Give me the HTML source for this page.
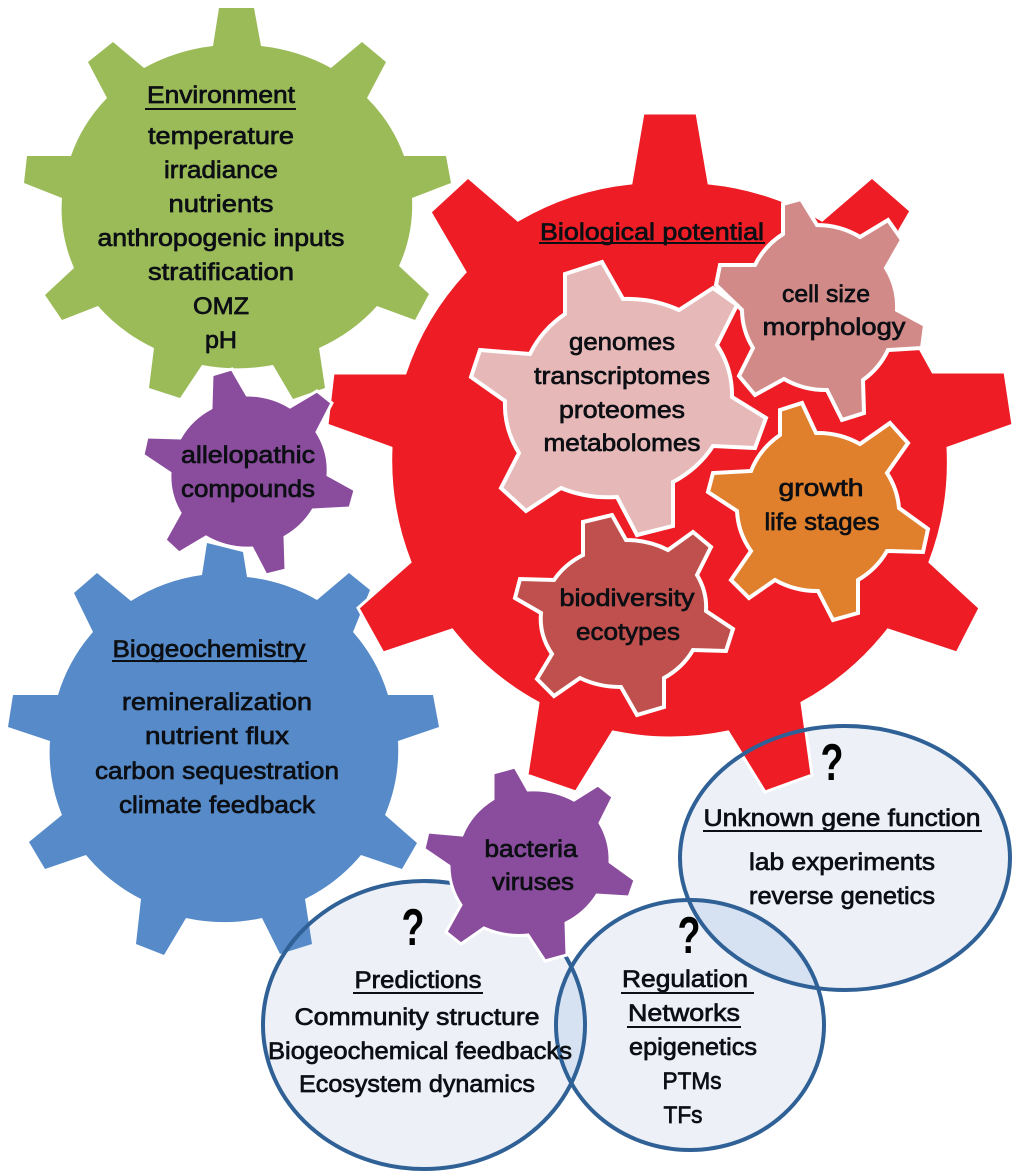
<!DOCTYPE html>
<html><head><meta charset="utf-8"><style>
html,body{margin:0;padding:0;background:#fff;width:1024px;height:1176px;overflow:hidden}
svg{display:block}
text{font-family:"Liberation Sans",sans-serif;font-size:24px;fill:#0c0f14;stroke:#0c0f14;stroke-width:.7px;text-anchor:middle;font-weight:normal}
.q{font-size:52px;font-weight:bold;stroke:none;fill:#000}
.u{stroke:#0c0f14;stroke-width:2}
</style></head><body>
<svg width="1024" height="1176" viewBox="0 0 1024 1176" xmlns="http://www.w3.org/2000/svg">
<defs>
<clipPath id="c1"><ellipse cx="690" cy="1025" rx="134" ry="125"/></clipPath>
</defs>
<rect width="1024" height="1176" fill="#fff"/>
<!-- circle fills -->
<ellipse cx="424" cy="1025" rx="161" ry="144" fill="#edf1f7"/>
<ellipse cx="690" cy="1025" rx="134" ry="125" fill="#edf1f7"/>
<ellipse cx="845" cy="858" rx="165" ry="132" fill="#edf1f7"/>
<ellipse cx="424" cy="1025" rx="161" ry="144" fill="#d6e2f2" clip-path="url(#c1)"/>
<ellipse cx="845" cy="858" rx="165" ry="132" fill="#d6e2f2" clip-path="url(#c1)"/>
<!-- green -->
<path fill="#9bbb59" d="M219,8 L254,8 L261,46 A176 160 0 0 1 331,68 L362,42 L386,62 L367,98 A176 160 0 0 1 404,156 L446,156 L451,183 L412,198 A176 160 0 0 1 399,266 L429,294 L415,320 L377,306 A176 160 0 0 1 319,348 L325,388 L293,399 L273,365 A176 160 0 0 1 202,365 L180,398 L149,388 L154,348 A176 160 0 0 1 98,306 L62,320 L45,295 L74,268 A176 160 0 0 1 62,198 L24,183 L27,156 L71,156 A176 160 0 0 1 107,98 L88,62 L113,42 L144,68 A176 160 0 0 1 213,46 Z"/>
<!-- blue -->
<path fill="#568ac8" d="M207,543 L243,552 L247,577 A174 170 0 0 1 317,600 L349,573 L370,590 L353,632 A174 170 0 0 1 388,695 L433,695 L439,727 L398,741 A174 170 0 0 1 385,815 L417,843 L402,869 L361,855 A174 170 0 0 1 305,899 L312,944 L280,954 L262,918 A174 170 0 0 1 186,918 L164,955 L136,944 L141,899 A174 170 0 0 1 86,855 L45,869 L29,842 L62,815 A174 170 0 0 1 50,741 L8,727 L13,695 L58,695 A174 170 0 0 1 93,632 L74,593 L97,573 L131,601 A174 170 0 0 1 202,575 Z"/>
<!-- red -->
<path fill="#ee1c25" stroke="#fff" stroke-width="3" d="M643,113 L697,113 L709,183 A279 279 0 0 1 822,220 L872,177 L911,211 L900,230 L885,280 L903,320 L922,352 L933,372 L1005,372 L1013,425 L948,448 A279 279 0 0 1 930,562 L980,608 L957,653 L888,630 A279 279 0 0 1 802,703 L812,775 L765,792 L728,732 A279 279 0 0 1 613,732 L576,792 L527,775 L538,703 A279 279 0 0 1 452,630 L383,653 L358,608 L410,562 A279 279 0 0 1 391,448 L327,425 L333,373 L405,373 A279 279 0 0 1 465,272 L430,212 L468,177 L518,220 A279 279 0 0 1 631,183 Z"/>
<!-- circle strokes -->
<g fill="none" stroke="#2f6096" stroke-width="4">
<ellipse cx="424" cy="1025" rx="161" ry="144"/>
<ellipse cx="690" cy="1025" rx="134" ry="125"/>
<ellipse cx="845" cy="858" rx="165" ry="132"/>
</g>
<!-- inner gears -->
<g stroke="#fff" stroke-width="4" stroke-linejoin="miter">
<path fill="#d28a88" d="M783,204 L801,199 L817,225 A80 76 0 0 1 860,237 L888,220 L902,240 L886,268 A80 76 0 0 1 897,310 L925,325 L922,348 L888,350 A80 76 0 0 1 863,380 L864,413 L842,420 L827,390 A80 76 0 0 1 784,379 L755,395 L739,376 L753,348 A80 76 0 0 1 742,310 L716,285 L720,265 L755,265 A80 76 0 0 1 783,234 Z"/>
<path fill="#e6b8b7" d="M565,274 L602,262 L623,299 A113 100 0 0 1 679,310 L713,288 L737,305 L717,345 A113 100 0 0 1 732,397 L766,418 L755,448 L713,446 A113 100 0 0 1 673,482 L673,526 L637,535 L617,497 A113 100 0 0 1 561,488 L526,511 L501,488 L519,453 A113 100 0 0 1 505,401 L471,377 L480,350 L530,354 A113 100 0 0 1 565,314 Z"/>
<path fill="#e07f2c" d="M780,410 L802,403 L816,433 A82 78 0 0 1 860,444 L890,423 L908,443 L887,473 A82 78 0 0 1 899,508 L928,529 L923,552 L887,551 A82 78 0 0 1 858,580 L858,613 L833,620 L818,591 A82 78 0 0 1 775,580 L749,598 L731,580 L751,551 A82 78 0 0 1 737,511 L708,492 L713,473 L751,471 A82 78 0 0 1 780,435 Z"/>
<path fill="#c0504d" d="M583,522 L612,515 L626,540 A82 70 0 0 1 668,550 L693,532 L711,547 L697,575 A82 70 0 0 1 706,611 L733,629 L726,651 L693,650 A82 70 0 0 1 664,678 L664,707 L637,715 L621,687 A82 70 0 0 1 580,678 L554,696 L537,679 L552,654 A82 70 0 0 1 541,613 L515,598 L520,579 L554,580 A82 70 0 0 1 583,555 Z"/>
</g>
<!-- purple gears -->
<g fill="#8a4c9c" stroke="#fff" stroke-width="3">
<path d="M212,375 L232,369 L247,395 A80 75 0 0 1 290,407 L317,391 L332,403 L317,432 A80 75 0 0 1 328,475 L355,490 L350,508 L313,510 A80 75 0 0 1 285,537 L286,570 L266,575 L252,548 A80 75 0 0 1 206,537 L179,553 L165,540 L180,513 A80 75 0 0 1 170,473 L143,455 L147,437 L180,438 A80 75 0 0 1 211,408 Z"/>
<path d="M493,773 L515,767 L528,790 A82 76 0 0 1 574,800 L598,785 L613,797 L600,823 A82 76 0 0 1 610,862 L635,880 L629,897 L597,895 A82 76 0 0 1 566,923 L567,955 L545,961 L528,935 A82 76 0 0 1 484,928 L461,944 L446,932 L461,905 A82 76 0 0 1 449,866 L424,849 L428,832 L462,835 A82 76 0 0 1 493,799 Z"/>
</g>
<!-- text -->
<text x="221" y="103" textLength="148" lengthAdjust="spacingAndGlyphs">Environment</text><line class="u" x1="145" y1="109" x2="296" y2="109"/>
<text x="221" y="144" textLength="146" lengthAdjust="spacingAndGlyphs">temperature</text>
<text x="221" y="178" textLength="114" lengthAdjust="spacingAndGlyphs">irradiance</text>
<text x="221" y="212" textLength="105" lengthAdjust="spacingAndGlyphs">nutrients</text>
<text x="221" y="246" textLength="247" lengthAdjust="spacingAndGlyphs">anthropogenic inputs</text>
<text x="221" y="280" textLength="146" lengthAdjust="spacingAndGlyphs">stratification</text>
<text x="221" y="314" textLength="56" lengthAdjust="spacingAndGlyphs">OMZ</text>
<text x="221" y="348" textLength="32" lengthAdjust="spacingAndGlyphs">pH</text>
<text x="248" y="463" textLength="134" lengthAdjust="spacingAndGlyphs">allelopathic</text>
<text x="248" y="497" textLength="134" lengthAdjust="spacingAndGlyphs">compounds</text>
<text x="652" y="240" textLength="224" lengthAdjust="spacingAndGlyphs">Biological potential</text><line class="u" x1="539" y1="243" x2="765" y2="243"/>
<text x="622" y="350" textLength="106" lengthAdjust="spacingAndGlyphs">genomes</text>
<text x="622" y="384" textLength="176" lengthAdjust="spacingAndGlyphs">transcriptomes</text>
<text x="622" y="418" textLength="126" lengthAdjust="spacingAndGlyphs">proteomes</text>
<text x="622" y="451" textLength="157" lengthAdjust="spacingAndGlyphs">metabolomes</text>
<text x="826" y="302" textLength="88" lengthAdjust="spacingAndGlyphs">cell size</text>
<text x="834" y="335" textLength="143" lengthAdjust="spacingAndGlyphs">morphology</text>
<text x="821" y="496" textLength="85" lengthAdjust="spacingAndGlyphs">growth</text>
<text x="822" y="530" textLength="115" lengthAdjust="spacingAndGlyphs">life stages</text>
<text x="627" y="606" textLength="135" lengthAdjust="spacingAndGlyphs">biodiversity</text>
<text x="628" y="640" textLength="104" lengthAdjust="spacingAndGlyphs">ecotypes</text>
<text x="209" y="657" textLength="193" lengthAdjust="spacingAndGlyphs">Biogeochemistry</text><line class="u" x1="112" y1="661" x2="307" y2="661"/>
<text x="217" y="710" textLength="190" lengthAdjust="spacingAndGlyphs">remineralization</text>
<text x="217" y="744" textLength="144" lengthAdjust="spacingAndGlyphs">nutrient flux</text>
<text x="217" y="779" textLength="244" lengthAdjust="spacingAndGlyphs">carbon sequestration</text>
<text x="217" y="813" textLength="196" lengthAdjust="spacingAndGlyphs">climate feedback</text>
<text x="531" y="857" textLength="93" lengthAdjust="spacingAndGlyphs">bacteria</text>
<text x="533" y="890" textLength="82" lengthAdjust="spacingAndGlyphs">viruses</text>
<text class="q" x="413" y="945" textLength="23" lengthAdjust="spacingAndGlyphs">?</text>
<text class="q" x="689" y="953" textLength="23" lengthAdjust="spacingAndGlyphs">?</text>
<text class="q" x="832" y="780" textLength="23" lengthAdjust="spacingAndGlyphs">?</text>
<text x="418" y="988" textLength="127" lengthAdjust="spacingAndGlyphs">Predictions</text><line class="u" x1="353" y1="993" x2="483" y2="993"/>
<text x="417" y="1025" textLength="245" lengthAdjust="spacingAndGlyphs">Community structure</text>
<text x="420" y="1059" textLength="304" lengthAdjust="spacingAndGlyphs">Biogeochemical feedbacks</text>
<text x="417" y="1092" textLength="236" lengthAdjust="spacingAndGlyphs">Ecosystem dynamics</text>
<text x="685" y="987" textLength="126" lengthAdjust="spacingAndGlyphs">Regulation</text><line class="u" x1="621" y1="993" x2="754" y2="993"/>
<text x="684" y="1021" textLength="112" lengthAdjust="spacingAndGlyphs">Networks</text><line class="u" x1="627" y1="1027" x2="741" y2="1027"/>
<text x="693" y="1055" textLength="128" lengthAdjust="spacingAndGlyphs">epigenetics</text>
<text x="692" y="1089" textLength="59" lengthAdjust="spacingAndGlyphs">PTMs</text>
<text x="683" y="1123" textLength="39" lengthAdjust="spacingAndGlyphs">TFs</text>
<text x="842" y="826" textLength="277" lengthAdjust="spacingAndGlyphs">Unknown gene function</text><line class="u" x1="703" y1="831" x2="982" y2="831"/>
<text x="842" y="870" textLength="186" lengthAdjust="spacingAndGlyphs">lab experiments</text>
<text x="842" y="904" textLength="186" lengthAdjust="spacingAndGlyphs">reverse genetics</text>
</svg>
</body></html>
